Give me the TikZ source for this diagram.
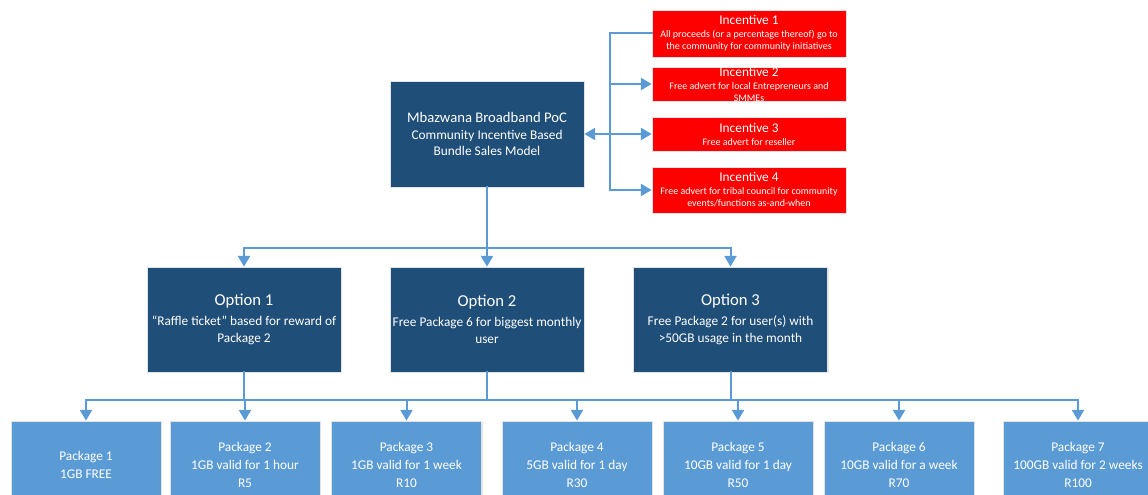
\documentclass[tikz,border=0pt]{standalone}
\usepackage{fontspec}
\setmainfont{Carlito}
\usetikzlibrary{arrows.meta,shadows}

\definecolor{modelblue}{RGB}{31,78,121}
\definecolor{pkgblue}{RGB}{91,155,213}
\definecolor{linkblue}{RGB}{91,155,213}
\definecolor{incred}{RGB}{255,0,0}

\tikzset{
  panel/.style={draw=white!78!gray, line width=0.6pt, inner sep=0pt, text=white, align=center,
    drop shadow={shadow xshift=0.8pt, shadow yshift=-0.8pt, opacity=0.2, fill=gray}},
  modelbox/.style={panel, fill=modelblue, minimum width=145.5pt, minimum height=79.5pt,
    font=\fontsize{10}{12.4}\selectfont},
  optbox/.style={panel, fill=modelblue, minimum width=145.5pt, minimum height=78.75pt,
    font=\fontsize{10}{12.8}\selectfont},
  incbox/.style={panel, fill=incred, minimum width=145.5pt},
  inctext/.style={text=white, align=center, inner sep=0pt, font=\fontsize{7.5}{9}\selectfont},
  pkgbox/.style={panel, fill=pkgblue, minimum width=112.5pt, minimum height=66pt,
    font=\fontsize{10}{13.5}\selectfont},
  link/.style={draw=linkblue, line width=1.5pt, line cap=rect},
  tip/.tip={Triangle[length=8pt,width=9pt]},
  arrow/.style={link, -tip},
}

\newcommand{\inctitle}[1]{{\fontsize{10}{12}\selectfont #1}\\[0.8pt]}
\newcommand{\opttitle}[1]{{\fontsize{12.5}{15}\selectfont #1}\\[2pt]}

\begin{document}
\begin{tikzpicture}[x=0.75pt,y=-0.75pt]
\useasboundingbox (0,0) rectangle (1148,495);

\node[modelbox] (model) at (487,134) {{\fontsize{11}{13}\selectfont Mbazwana Broadband PoC}\\Community Incentive Based\\Bundle Sales Model};

\node[incbox, minimum height=35.25pt, label={[inctext]center:{\inctitle{Incentive 1}All proceeds (or a percentage thereof) go to\\the community for community initiatives}}] (inc1) at (749,33.5) {};
\node[incbox, minimum height=25.5pt, label={[inctext]center:{\inctitle{Incentive 2}Free advert for local Entrepreneurs and\\SMMEs}}] (inc2) at (749,84) {};
\node[incbox, minimum height=25.5pt, label={[inctext]center:{\inctitle{Incentive 3}Free advert for reseller}}] (inc3) at (749,134) {};
\node[incbox, minimum height=34.5pt, label={[inctext]center:{\inctitle{Incentive 4}Free advert for tribal council for community\\events/functions as-and-when}}] (inc4) at (749,190) {};

\node[optbox] (opt1) at (244,319.5) {\opttitle{Option 1}“Raffle ticket” based for reward of\\Package 2};
\node[optbox] (opt2) at (487,319.5) {\opttitle{Option 2}Free Package 6 for biggest monthly\\user};
\node[optbox] (opt3) at (730.5,319.5) {\opttitle{Option 3}Free Package 2 for user(s) with\\>50GB usage in the month};

\node[pkgbox] (pkg1) at (86,465) {Package 1\\1GB FREE};
\node[pkgbox] (pkg2) at (245,465) {Package 2\\1GB valid for 1 hour\\R5};
\node[pkgbox] (pkg3) at (406.5,465) {Package 3\\1GB valid for 1 week\\R10};
\node[pkgbox] (pkg4) at (577,465) {Package 4\\5GB valid for 1 day\\R30};
\node[pkgbox] (pkg5) at (738,465) {Package 5\\10GB valid for 1 day\\R50};
\node[pkgbox] (pkg6) at (899,465) {Package 6\\10GB valid for a week\\R70};
\node[pkgbox] (pkg7) at (1078,465) {Package 7\\100GB valid for 2 weeks\\R100};

\coordinate (trunk) at (610,0);
\coordinate (split) at (0,248);
\coordinate (bus) at (0,400);

% incentives
\draw[arrow] (inc1.west) -| (trunk |- inc4.west) -- (inc4.west);
\draw[arrow] (trunk |- inc2.west) -- (inc2.west);
\draw[link, tip-tip] (model.east) -- (inc3.west);

% options
\draw[link] (model.south) -- (model.south |- split);
\draw[link] (opt1.north |- split) -- (opt3.north |- split);
\foreach \o in {1,2,3}
  \draw[arrow] (opt\o.north |- split) -- (opt\o.north);

% packages
\foreach \o in {1,2,3}
  \draw[link] (opt\o.south) -- (opt\o.south |- bus);
\draw[link] (pkg1.north |- bus) -- (pkg7.north |- bus);
\foreach \p in {1,...,7}
  \draw[arrow] (pkg\p.north |- bus) -- (pkg\p.north);

\end{tikzpicture}
\end{document}
